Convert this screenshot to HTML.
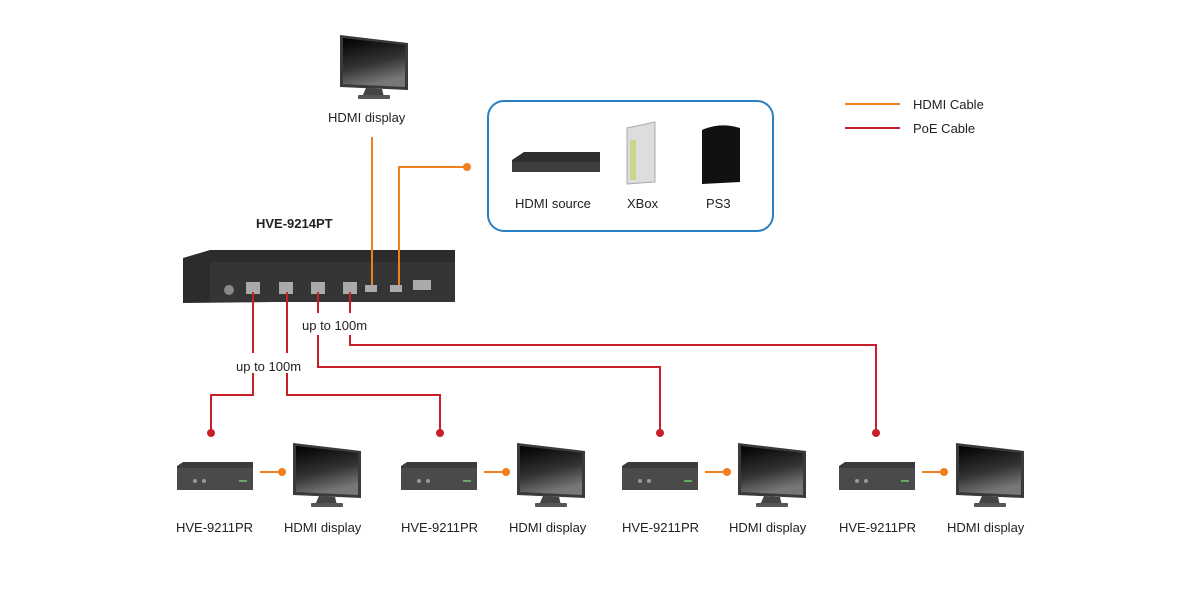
<!DOCTYPE html><html><head><style>body{margin:0;background:#fff}svg{display:block}text{font-family:"Liberation Sans",sans-serif;font-size:13px;fill:#222}</style></head><body>
<svg width="1200" height="600" viewBox="0 0 1200 600" xmlns="http://www.w3.org/2000/svg">
<defs>
<linearGradient id="scr" x1="0" y1="0" x2="0.3" y2="1"><stop offset="0" stop-color="#000"/><stop offset="0.6" stop-color="#333"/><stop offset="1" stop-color="#777"/></linearGradient>
<g id="mon">
<path d="M0 0 L68 8 L68 55 L0 52 Z" fill="#3a3a3a"/>
<path d="M3 3 L65 10 L65 52 L3 49 Z" fill="url(#scr)"/>
<path d="M26 53 L42 54 L44 62 L22 62 Z" fill="#444"/>
<rect x="18" y="60" width="32" height="4" rx="1" fill="#555"/>
</g>
<g id="rx">
<path d="M0 4 L6 0 L76 0 L76 28 L0 28 Z" fill="#3b3b3b"/>
<rect x="0" y="6" width="76" height="22" fill="#4a4a4a"/>
<circle cx="18" cy="19" r="2" fill="#999"/><circle cx="27" cy="19" r="2" fill="#999"/>
<rect x="62" y="18" width="8" height="2" fill="#6a6"/>
</g>
</defs>
<!-- legend -->
<line x1="845" y1="104" x2="900" y2="104" stroke="#f07f1f" stroke-width="2"/>
<text x="913" y="109">HDMI Cable</text>
<line x1="845" y1="128" x2="900" y2="128" stroke="#c8202a" stroke-width="2"/>
<text x="913" y="133">PoE Cable</text>
<!-- top monitor -->
<use href="#mon" x="340" y="35"/>
<text x="328" y="122">HDMI display</text>
<!-- source box -->
<rect x="488" y="101" width="285" height="130" rx="16" fill="none" stroke="#2a7fc0" stroke-width="2"/>
<path d="M512 160 L524 152 L600 152 L600 172 L512 172Z" fill="#2e2e2e"/><rect x="512" y="162" width="88" height="10" fill="#3e3e3e"/>
<text x="515" y="208">HDMI source</text>
<path d="M627 128 L655 122 L655 182 L627 184Z" fill="#ddd" stroke="#aaa"/><rect x="630" y="140" width="6" height="40" fill="#c8d88a"/>
<text x="627" y="208">XBox</text>
<path d="M702 130 Q720 122 740 128 L740 182 L702 184Z" fill="#111"/>
<text x="706" y="208">PS3</text>
<!-- main unit -->
<text x="256" y="228" style="font-weight:bold">HVE-9214PT</text>
<path d="M183 258 L210 250 L455 250 L455 300 L183 303Z" fill="#2c2c2c"/>
<rect x="210" y="262" width="245" height="40" fill="#353535"/>
<g fill="#aaa"><rect x="246" y="282" width="14" height="12"/><rect x="279" y="282" width="14" height="12"/><rect x="311" y="282" width="14" height="12"/><rect x="343" y="282" width="14" height="12"/><rect x="365" y="285" width="12" height="7"/><rect x="390" y="285" width="12" height="7"/><rect x="413" y="280" width="18" height="10"/></g>
<circle cx="229" cy="290" r="5" fill="#888"/>
<!-- orange lines -->
<g stroke="#f07f1f" stroke-width="2" fill="none">
<line x1="372" y1="137" x2="372" y2="285"/>
<polyline points="399,285 399,167 466,167"/>
<line x1="260" y1="472" x2="280" y2="472"/><line x1="484" y1="472" x2="504" y2="472"/><line x1="705" y1="472" x2="725" y2="472"/><line x1="922" y1="472" x2="942" y2="472"/>
</g>
<g fill="#f07f1f"><circle cx="467" cy="167" r="4"/><circle cx="282" cy="472" r="4"/><circle cx="506" cy="472" r="4"/><circle cx="727" cy="472" r="4"/><circle cx="944" cy="472" r="4"/></g>
<!-- red lines -->
<g stroke="#c8202a" stroke-width="2" fill="none">
<polyline points="253,292 253,353"/><polyline points="253,373 253,395 211,395 211,432"/>
<polyline points="287,292 287,353"/><polyline points="287,373 287,395 440,395 440,432"/>
<polyline points="318,292 318,313"/><polyline points="318,335 318,367 660,367 660,432"/>
<polyline points="350,292 350,313"/><polyline points="350,335 350,345 876,345 876,432"/>
</g>
<g fill="#c8202a"><circle cx="211" cy="433" r="4"/><circle cx="440" cy="433" r="4"/><circle cx="660" cy="433" r="4"/><circle cx="876" cy="433" r="4"/></g>
<text x="302" y="330">up to 100m</text>
<text x="236" y="371">up to 100m</text>
<!-- receivers -->
<use href="#rx" x="177" y="462"/><use href="#mon" x="293" y="443"/>
<use href="#rx" x="401" y="462"/><use href="#mon" x="517" y="443"/>
<use href="#rx" x="622" y="462"/><use href="#mon" x="738" y="443"/>
<use href="#rx" x="839" y="462"/><use href="#mon" x="956" y="443"/>
<text x="176" y="532">HVE-9211PR</text><text x="284" y="532">HDMI display</text>
<text x="401" y="532">HVE-9211PR</text><text x="509" y="532">HDMI display</text>
<text x="622" y="532">HVE-9211PR</text><text x="729" y="532">HDMI display</text>
<text x="839" y="532">HVE-9211PR</text><text x="947" y="532">HDMI display</text>
</svg></body></html>
